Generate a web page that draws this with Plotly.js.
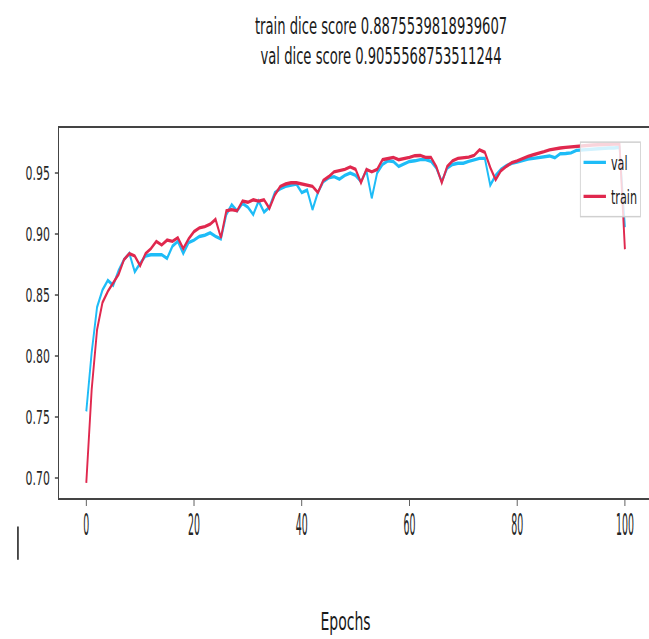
<!DOCTYPE html>
<html>
<head>
<meta charset="utf-8">
<script src="https://cdn.plot.ly/plotly-3.0.1.min.js"></script>
<style>
html,body{margin:0;padding:0;overflow:hidden;background:#fff;width:649px;height:639px;}
#wrap{position:absolute;left:0;top:0;width:1180px;height:639px;transform:scaleX(0.56);transform-origin:0 0;}
#plot{width:1180px;height:639px;}
</style>
</head>
<body>
<div id="wrap"><div id="plot"></div></div>
<script>
const epochs = Array.from({length: 101}, (_, i) => i);

const valScores = [
0.7546,0.803,0.840,0.854,0.862,0.858,0.870,0.879,0.884,0.869,
0.876,0.882,0.883,0.883,0.883,0.880,0.890,0.894,0.884,0.893,
0.895,0.898,0.899,0.901,0.898,0.896,0.916,0.924,0.919,0.925,
0.922,0.916,0.927,0.918,0.922,0.934,0.937,0.939,0.940,0.941,
0.934,0.936,0.920,0.934,0.943,0.946,0.947,0.945,0.948,0.950,
0.948,0.943,0.952,0.9295,0.950,0.957,0.960,0.9595,0.9554,0.9574,
0.9595,0.960,0.961,0.961,0.9595,0.954,0.943,0.954,0.957,0.958,
0.958,0.9595,0.961,0.962,0.962,0.940,0.948,0.953,0.956,0.958,
0.959,0.9605,0.9615,0.962,0.9625,0.963,0.964,0.9625,0.9658,0.966,
0.9665,0.9686,0.969,0.969,0.9695,0.970,0.970,0.9705,0.9705,0.971,
0.9055];

const trainScores = [
0.696,0.7725,0.8216,0.8437,0.853,0.860,0.867,0.879,0.884,0.882,
0.874,0.884,0.888,0.894,0.891,0.895,0.894,0.897,0.888,0.896,
0.902,0.905,0.906,0.908,0.912,0.897,0.919,0.920,0.919,0.927,
0.926,0.928,0.927,0.928,0.921,0.932,0.939,0.941,0.942,0.942,
0.941,0.940,0.939,0.934,0.944,0.947,0.951,0.952,0.953,0.955,
0.953,0.942,0.953,0.951,0.953,0.9609,0.962,0.9628,0.9609,0.9617,
0.9628,0.9642,0.9644,0.9628,0.9628,0.955,0.942,0.9554,0.960,0.962,
0.9623,0.963,0.9644,0.969,0.967,0.9545,0.9445,0.952,0.9555,0.9585,
0.960,0.962,0.9636,0.965,0.966,0.9675,0.969,0.970,0.9705,0.971,
0.9715,0.972,0.9724,0.9728,0.973,0.9732,0.9735,0.9737,0.974,0.974,
0.8875];

const seriesNames = ["val", "train"];
const titleLines = ["train dice score 0.8875539818939607", "val dice score 0.9055568753511244"];
const xTickVals = [0, 20, 40, 60, 80, 100];
const yTickVals = [0.70, 0.75, 0.80, 0.85, 0.90, 0.95];
const yTickText = ["0.70", "0.75", "0.80", "0.85", "0.90", "0.95"];
const xLabel = "Epochs";

const FONT = "DejaVu Sans";
const traces = [
  {x: epochs, y: valScores, name: seriesNames[0], type: "scatter", mode: "lines",
   line: {color: "#1ebcf7", width: 3.4}, legendgroup: "a"},
  {x: epochs, y: trainScores, name: seriesNames[1], type: "scatter", mode: "lines",
   line: {color: "#e0284e", width: 3.4}, legendgroup: "b"}
];

const layout = {
  width: 1180, height: 639,
  margin: {l: 106.4, r: 15.9, t: 128.3, b: 140.7, pad: 0},
  paper_bgcolor: "#ffffff", plot_bgcolor: "#ffffff",
  font: {family: FONT, color: "#262626"},
  title: {text: titleLines.join("<br>"), font: {family: FONT, size: 23.5, color: "#1a1a1a"},
          xref: "container", x: 0.5766, xanchor: "center",
          yref: "container", y: 0.947, yanchor: "top"},
  showlegend: true,
  legend: {x: 0.8786, y: 0.9638, xanchor: "left", yanchor: "top", itemwidth: 44,
           bgcolor: "rgba(255,255,255,0.8)", bordercolor: "#d0d0d0", borderwidth: 1.5,
           font: {family: FONT, size: 20, color: "#1a1a1a"}, tracegroupgap: 5},
  xaxis: {range: [-5, 105], tickvals: xTickVals, ticks: "outside", ticklen: 6, tickwidth: 1.5,
          tickcolor: "#444", showgrid: false, zeroline: false, showline: true, linecolor: "#444",
          linewidth: 2, mirror: true, tickfont: {family: FONT, size: 20, color: "#262626"},
          ticklabelstandoff: -5,
          title: {text: xLabel, font: {family: FONT, size: 25, color: "#1a1a1a"}, standoff: 78}},
  yaxis: {range: [0.6836, 0.9869], tickvals: yTickVals, ticktext: yTickText, ticks: "outside",
          ticklen: 6, tickwidth: 1.5, tickcolor: "#444", showgrid: false, zeroline: false,
          showline: true, linecolor: "#444", linewidth: 2, mirror: true,
          tickfont: {family: FONT, size: 19.5, color: "#262626"}, ticklabelstandoff: 5},
  shapes: [{type: "line", xref: "paper", yref: "paper", x0: -0.0699, x1: -0.0699,
            y0: -0.0768, y1: -0.1668, line: {color: "#111", width: 2.6}, layer: "above"}]
};

Plotly.newPlot("plot", traces, layout, {displayModeBar: false, staticPlot: true}).then(function () {
  // the reference's epoch tick labels are drawn taller and narrower than its other texts
  document.querySelectorAll("#plot .xtick text").forEach(function (t) {
    const b = t.getBBox();
    const cx = b.x + b.width / 2, top = b.y;
    const tr = t.getAttribute("transform") || "";
    t.setAttribute("transform", tr + " translate(" + cx + "," + top + ") scale(0.84,1.55) translate(" + (-cx) + "," + (-top) + ")");
  });
  const xt = document.querySelector("#plot .g-xtitle text");
  if (xt) {
    const tr = xt.getAttribute("transform") || "";
    xt.setAttribute("transform", tr + " translate(-18,6)");
  }
  // shorter legend line samples, leaving a gap before the label as in the reference
  document.querySelectorAll("#plot .legend .legendlines path").forEach(function (p) {
    p.setAttribute("d", "M5,0h40");
  });
});
</script>
</body>
</html>
